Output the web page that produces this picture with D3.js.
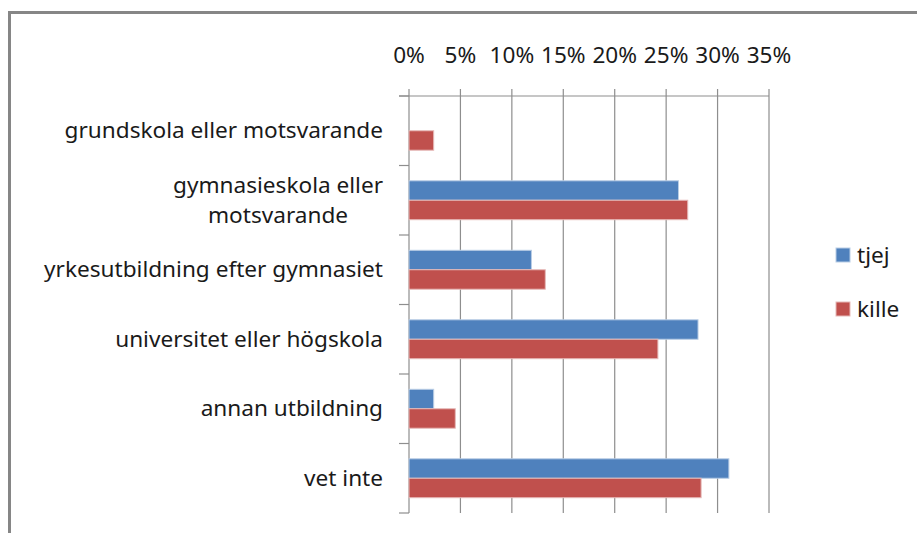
<!DOCTYPE html>
<html>
<head>
<meta charset="utf-8">
<script src="https://cdn.jsdelivr.net/npm/d3@7/dist/d3.min.js"></script>
<style>
html,body{margin:0;padding:0;background:#fff;}
svg{display:block;}
</style>
</head>
<body>
<svg id="chart" width="917" height="533"></svg>
<script>
const categories = [
  ["grundskola eller motsvarande"],
  ["gymnasieskola eller", "motsvarande"],
  ["yrkesutbildning efter gymnasiet"],
  ["universitet eller högskola"],
  ["annan utbildning"],
  ["vet inte"]
];
const seriesNames = ["tjej", "kille"];
const tjej  = [0, 26.2, 11.9, 28.1, 2.4, 31.1];
const kille = [2.4, 27.1, 13.25, 24.2, 4.5, 28.4];
const tickValues = [0, 5, 10, 15, 20, 25, 30, 35];
const tickLabels = ["0%", "5%", "10%", "15%", "20%", "25%", "30%", "35%"];
const colors = ["#4F81BD", "#C0504D"];
const strokes = ["#B9CDE5", "#E6B9B8"];

const svg = d3.select("#chart");
const FONT = "Noto Sans";
const FS = 22.6;
const TXT = "#1a1a1a";

const x = d3.scaleLinear().domain([0, 35]).range([409, 769]);
const y = d3.scaleBand().domain(d3.range(categories.length)).range([96, 513]);
const barH = y.bandwidth() * 0.28;

// border
svg.append("rect").attr("x", 9.5).attr("y", 12.5).attr("width", 920).attr("height", 540)
  .attr("fill", "none").attr("stroke", "#868686").attr("stroke-width", 3);

// gridlines
svg.append("g").selectAll("line").data(tickValues).join("line")
  .attr("x1", d => x(d)).attr("x2", d => x(d))
  .attr("y1", 89).attr("y2", 513)
  .attr("stroke", "#8e8e8e").attr("stroke-width", 1.2);

// top axis line
svg.append("line").attr("x1", 399).attr("x2", x(35)).attr("y1", 96).attr("y2", 96)
  .attr("stroke", "#8e8e8e").attr("stroke-width", 1.2);

// category ticks
const bounds = d3.range(categories.length + 1).map(i => i < categories.length ? y(i) : y(categories.length - 1) + y.bandwidth());
svg.append("g").selectAll("line").data(bounds).join("line")
  .attr("x1", 399).attr("x2", 409).attr("y1", d => d).attr("y2", d => d)
  .attr("stroke", "#8e8e8e").attr("stroke-width", 1.2);

// tick labels
svg.append("g").selectAll("text").data(tickValues).join("text")
  .attr("x", d => x(d)).attr("y", 63)
  .attr("text-anchor", "middle")
  .attr("font-family", FONT).attr("font-size", FS).attr("fill", TXT)
  .text((d, i) => tickLabels[i]);

// bars
const series = [tjej, kille];
series.forEach((vals, s) => {
  svg.append("g").selectAll("rect").data(vals).join("rect")
    .attr("x", x(0))
    .attr("y", (d, i) => y(i) + y.bandwidth() / 2 - barH + s * barH)
    .attr("width", d => x(d) - x(0))
    .attr("height", barH)
    .attr("fill", colors[s])
    .attr("stroke", d => d > 0 ? strokes[s] : "none")
    .attr("stroke-width", 1);
});

// category labels
categories.forEach((lines, i) => {
  const cy = y(i) + y.bandwidth() / 2;
  const lh = 30;
  const g = svg.append("text")
    .attr("font-family", FONT).attr("font-size", FS).attr("fill", TXT);
  const n = lines.length;
  if (n === 1) {
    g.attr("x", 383).attr("y", cy + 7.5).attr("text-anchor", "end").text(lines[0]);
  } else {
    g.attr("text-anchor", "middle");
    const tmp = svg.append("text").attr("font-family", FONT).attr("font-size", FS).text(lines[0]);
    const w = tmp.node().getComputedTextLength();
    tmp.remove();
    const cx = 383 - w / 2;
    g.selectAll("tspan").data(lines).join("tspan")
      .attr("x", cx)
      .attr("y", (d, j) => cy + 7.5 + (j - (n - 1) / 2) * lh)
      .text(d => d);
  }
});

// legend
const leg = svg.append("g");
seriesNames.forEach((name, i) => {
  const ly = 255 + i * 54;
  leg.append("rect").attr("x", 836).attr("y", ly - 7).attr("width", 14).attr("height", 14)
    .attr("fill", colors[i]).attr("stroke", strokes[i]).attr("stroke-width", 1);
  leg.append("text").attr("x", 857).attr("y", ly + 8)
    .attr("font-family", FONT).attr("font-size", FS).attr("fill", TXT).text(name);
});
</script>
</body>
</html>
